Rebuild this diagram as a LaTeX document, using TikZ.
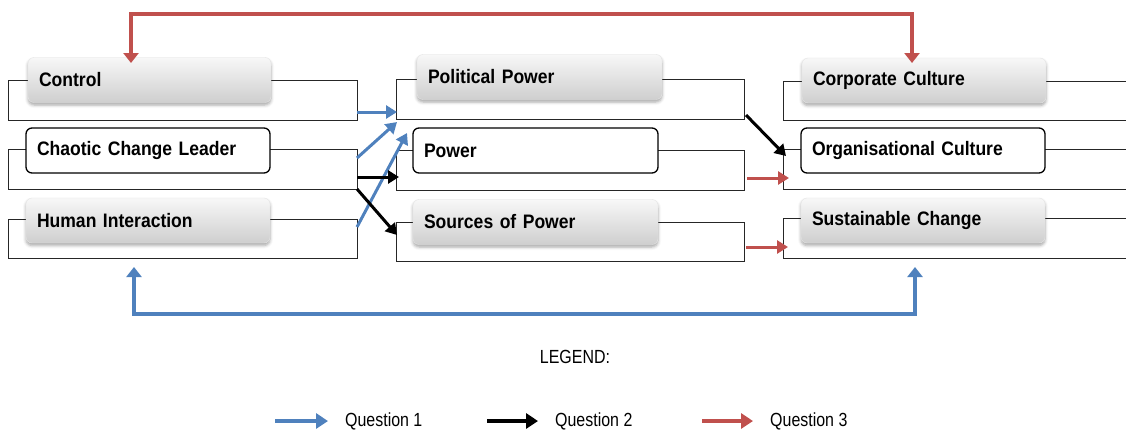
\documentclass[tikz,border=0pt]{standalone}
\usepackage{fontspec}
\setmainfont{Liberation Sans}
\newfontfamily\labelsans[FakeStretch=0.9]{Liberation Sans}
\newfontfamily\keysans[FakeStretch=0.84]{Liberation Sans}
\usetikzlibrary{arrows.meta,shadows.blur}

\definecolor{qblue}{HTML}{4F81BD}
\definecolor{qred}{HTML}{C0504D}

\tikzset{
  % open bracket frame behind each label
  bracketbox/.style={draw=black!85, line width=0.9pt, inner sep=0pt, outer sep=0pt,
    minimum width=349pt, minimum height=40pt},
  openbox/.style={inner sep=0pt, outer sep=0pt, minimum width=343pt, minimum height=40pt},
  framepen/.style={draw=black!85, line width=0.9pt},
  % label boxes
  labelbase/.style={rounded corners=6pt, text width=222pt, inner xsep=11pt,
    minimum height=45pt, align=left, outer sep=0pt,
    font=\labelsans\bfseries\fontsize{19.5}{21}\selectfont},
  graylabel/.style={labelbase, top color=white!97!black, bottom color=black!19,
    draw=black!10, line width=0.4pt,
    blur shadow={shadow xshift=0pt, shadow yshift=-2.5pt, shadow blur radius=3pt, shadow opacity=35}},
  whitelabel/.style={labelbase, draw=black, line width=1.3pt, fill=white},
  % connectors
  link/.style={line width=3pt, -{Triangle[length=11pt,width=13pt]}},
  qone/.style={link, draw=qblue},
  qtwo/.style={link, draw=black},
  qthree/.style={link, draw=qred},
  loopline/.style={line width=3.4pt, {Triangle[length=10pt,width=15pt]}-{Triangle[length=10pt,width=15pt]}},
  keyarrow/.style={line width=3.4pt, -{Triangle[length=12pt,width=15pt]}},
  keyfont/.style={font=\keysans\fontsize{19}{21}\selectfont},
  keytext/.style={keyfont, anchor=west, inner sep=0pt}
}

\begin{document}
\begin{tikzpicture}[x=1pt, y=-1pt]
\useasboundingbox (0,0) rectangle (1126,432);

% ---- frames ----
\node[bracketbox] (o1) at (182.5,100) {};
\node[bracketbox] (o2) at (182.5,169) {};
\node[bracketbox, minimum height=39pt] (o3) at (182.5,238.5) {};
\node[bracketbox, minimum width=348pt] (m1) at (570,99) {};
\node[bracketbox, minimum width=348pt] (m2) at (570,170) {};
\node[bracketbox, minimum width=348pt, minimum height=39pt] (m3) at (570,241.5) {};
\node[openbox, minimum height=39pt] (r1) at (954.5,100.5) {};
\node[openbox] (r2) at (954.5,169) {};
\node[openbox] (r3) at (954.5,238) {};
\foreach \r in {r1,r2,r3}
  \draw[framepen] (\r.north east) -- (\r.north west) -- (\r.south west) -- (\r.south east);

% ---- labels ----
\node[graylabel, text width=221pt] (ctrl) at (149.5,80) {Control};
\node[whitelabel] (ccl) at (148,150.5) {Chaotic Change Leader};
\node[graylabel] (hum) at (148,220.5) {Human Interaction};
\node[graylabel, text width=223pt] (pol) at (539.5,77) {Political Power};
\node[whitelabel, text width=223pt] (pow) at (535.5,150.5) {Power};
\node[graylabel, text width=223pt] (src) at (535.5,222) {Sources of Power};
\node[graylabel] (corp) at (924,80.5) {Corporate Culture};
\node[whitelabel] (org) at (923,150.5) {Organisational Culture};
\node[graylabel] (sus) at (923,220.5) {Sustainable Change};

% ---- question 1 ----
\coordinate (b1s) at ([yshift=-12pt]o1.east);
\draw[qone] (b1s) -- ([xshift=1pt]b1s -| m1.west);
\draw[qone] ([yshift=11pt]o2.east) -- ([xshift=1pt,yshift=-3pt]m1.south west);
\draw[qone] ([yshift=11.5pt]o3.east) -- ([xshift=-6pt,yshift=-5pt]pow.north west);

% ---- question 2 ----
\coordinate (k1s) at ([yshift=-8pt]o2.east);
\draw[qtwo] (k1s) -- ([xshift=3pt]k1s -| m2.west);
\draw[qtwo] (o2.south east) -- ([xshift=1pt,yshift=6.5pt]m3.west);
\draw[qtwo] ([xshift=2pt,yshift=4pt]m1.south east) -- ([xshift=3pt,yshift=13pt]r2.west);

% ---- question 3 ----
\coordinate (c1s) at ([xshift=3pt,yshift=-8pt]m2.east);
\draw[qthree] (c1s) -- ([xshift=6pt]c1s -| r2.west);
\coordinate (c2s) at ([xshift=2pt,yshift=-5.5pt]m3.east);
\draw[qthree] (c2s) -- ([xshift=5pt]c2s -| r3.west);

% ---- loop over the top ----
\coordinate (topline) at (0,14);
\coordinate (t1) at ([xshift=103pt,yshift=-5.5pt]ctrl.north west);
\coordinate (t2) at ([xshift=110pt,yshift=-5pt]corp.north west);
\draw[loopline, draw=qred] (t1) -- (t1 |- topline) -- (t2 |- topline) -- (t2);

% ---- loop underneath ----
\coordinate (botline) at (0,314);
\coordinate (u1) at ([xshift=126pt,yshift=-9pt]o3.south west);
\coordinate (u2) at ([xshift=132pt,yshift=-9pt]r3.south west);
\draw[loopline, draw=qblue] (u1) -- (u1 |- botline) -- (u2 |- botline) -- (u2);

% ---- legend ----
\node[keyfont, inner sep=0pt] (legend) at (575,357) {LEGEND:};
\node[keytext] (k1) at (345,421) {Question 1};
\node[keytext] (k2) at (555,421) {Question 2};
\node[keytext] (k3) at (770,421) {Question 3};
\draw[keyarrow, draw=qblue] ([xshift=-70pt]k1.west) -- ([xshift=-17pt]k1.west);
\draw[keyarrow, draw=black] ([xshift=-68pt]k2.west) -- ([xshift=-17pt]k2.west);
\draw[keyarrow, draw=qred] ([xshift=-68pt]k3.west) -- ([xshift=-17pt]k3.west);
\end{tikzpicture}
\end{document}
